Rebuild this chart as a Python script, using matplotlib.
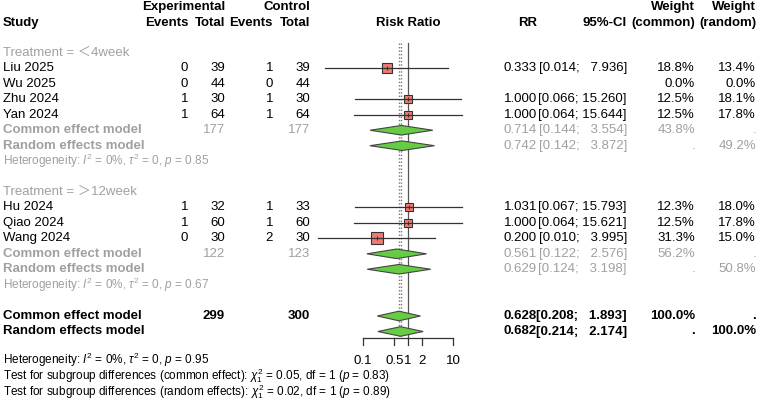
import numpy as np
import matplotlib
matplotlib.use("Agg")
import matplotlib.pyplot as plt

plt.rcParams['font.family'] = ['Liberation Sans', 'Noto Sans CJK SC', 'DejaVu Sans']
plt.rcParams['mathtext.fontset'] = 'custom'
plt.rcParams['mathtext.rm'] = 'Liberation Sans'
plt.rcParams['mathtext.it'] = 'Liberation Sans:italic'
plt.rcParams['mathtext.bf'] = 'Liberation Sans:bold'

# studies
studies = ["Liu 2025", "Wu 2025", "Zhu 2024", "Yan 2024", "Hu 2024", "Qiao 2024", "Wang 2024"]
group = [0, 0, 0, 0, 1, 1, 1]
e_events = [0, 0, 1, 1, 1, 1, 0]
e_total = [39, 44, 30, 64, 32, 60, 30]
c_events = [1, 0, 1, 1, 1, 1, 2]
c_total = [39, 44, 30, 64, 33, 60, 30]
rr = [0.333, np.nan, 1.000, 1.000, 1.031, 1.000, 0.200]
lo = [0.014, np.nan, 0.066, 0.064, 0.067, 0.064, 0.010]
hi = [7.936, np.nan, 15.260, 15.644, 15.793, 15.621, 3.995]
w_common = [18.8, 0.0, 12.5, 12.5, 12.3, 12.5, 31.3]
w_random = [13.4, 0.0, 18.1, 17.8, 18.0, 17.8, 15.0]

# subgroup summaries
sub_labels = ["Treatment = ＜4week", "Treatment = ＞12week"]
sub_e_total = [177, 122]
sub_c_total = [177, 123]
sub_common = [(0.714, 0.144, 3.554), (0.561, 0.122, 2.576)]
sub_random = [(0.742, 0.142, 3.872), (0.629, 0.124, 3.198)]
sub_w_common = [43.8, 56.2]
sub_w_random = [49.2, 50.8]
sub_het = ["0.85", "0.67"]

# overall
all_e_total, all_c_total = 299, 300
all_common = (0.628, 0.208, 1.893)
all_random = (0.682, 0.214, 2.174)

ticks = [0.1, 0.5, 1, 2, 10]
tick_labels = ["0.1", "0.5", "1", "2", "10"]

W, H = 760, 403
fig = plt.figure(figsize=(W / 100, H / 100), dpi=100)
tx = fig.add_axes([0, 0, 1, 1])
tx.set_xlim(0, W)
tx.set_ylim(H, 0)
tx.axis("off")

fx = fig.add_axes([318 / W, 0, 180 / W, 1])
fx.set_xscale("log")
fx.set_xlim(0.01, 100)
fx.set_ylim(H, 0)
fx.axis("off")

fs = 9.5
gray = "#a0a0a0"
sq_col = "#f07a72"
dia_col = "#66cc44"

# column right edges
col_ee, col_et, col_ce, col_ct = 188, 225, 273, 310
col_rr, col_ci, col_wc, col_wr = 537, 627, 695, 756


def fmt_ci(l, h):
    return "[%.3f; %s]" % (l, ("%.3f" % h).rjust(6).replace(" ", "  "))


def txt(x, y, s, ha="right", color="black", weight="normal", size=fs):
    tx.text(x, y, s, ha=ha, va="center", color=color, fontweight=weight, fontsize=size)


# headers
txt(3, 23, "Study", ha="left", weight="bold")
txt(225, 7, "Experimental", weight="bold")
txt(310, 7, "Control", weight="bold")
for x, s in [(col_ee, "Events"), (col_et, "Total"), (col_ce, "Events"), (col_ct, "Total")]:
    txt(x, 23, s, weight="bold")
txt(408, 23, "Risk Ratio", ha="center", weight="bold")
txt(col_rr, 23, "RR", weight="bold")
txt(col_ci, 23, "95%-CI", weight="bold")
txt(col_wc, 7, "Weight", weight="bold")
txt(col_wc, 23, "(common)", weight="bold")
txt(col_wr, 7, "Weight", weight="bold")
txt(col_wr, 23, "(random)", weight="bold")

step = 15.45
y0 = [53, 192]


def diamond(y, est, l, h):
    fx.fill([l, est, h, est], [y, y - 4.8, y, y + 4.8], facecolor=dia_col,
            edgecolor="#444444", linewidth=0.8, zorder=3, clip_on=False)


for g in range(2):
    y = y0[g]
    txt(3, y, sub_labels[g], ha="left", color=gray)
    idx = [i for i in range(len(studies)) if group[i] == g]
    for i in idx:
        y += step
        txt(3, y, studies[i], ha="left")
        txt(col_ee, y, str(e_events[i]))
        txt(col_et, y, str(e_total[i]))
        txt(col_ce, y, str(c_events[i]))
        txt(col_ct, y, str(c_total[i]))
        if not np.isnan(rr[i]):
            txt(col_rr, y, "%.3f" % rr[i])
            txt(col_ci, y, fmt_ci(lo[i], hi[i]))
            fx.plot([lo[i], hi[i]], [y, y], color="#333333", lw=0.9, zorder=5, clip_on=False)
            side = 8 * np.sqrt(w_common[i] / 12.5)
            fx.plot(rr[i], y, marker="s", ms=side * 0.72, mfc=sq_col, mec="#333333",
                    mew=0.8, zorder=4, clip_on=False)
            fx.plot(rr[i], y, marker="|", ms=3.5, color="#333333", mew=0.8, zorder=5)
        txt(col_wc, y, "%.1f%%" % w_common[i])
        txt(col_wr, y, "%.1f%%" % w_random[i])
    # common
    y += step
    txt(3, y, "Common effect model", ha="left", color=gray, weight="bold")
    txt(col_et, y, str(sub_e_total[g]), color=gray)
    txt(col_ct, y, str(sub_c_total[g]), color=gray)
    est, l, h = sub_common[g]
    txt(col_rr, y, "%.3f" % est, color=gray)
    txt(col_ci, y, fmt_ci(l, h), color=gray)
    txt(col_wc, y, "%.1f%%" % sub_w_common[g], color=gray)
    txt(col_wr, y, ".", color=gray)
    diamond(y, est, l, h)
    # random
    y += step
    txt(3, y, "Random effects model", ha="left", color=gray, weight="bold")
    est, l, h = sub_random[g]
    txt(col_rr, y, "%.3f" % est, color=gray)
    txt(col_ci, y, fmt_ci(l, h), color=gray)
    txt(col_wc, y, ".", color=gray)
    txt(col_wr, y, "%.1f%%" % sub_w_random[g], color=gray)
    diamond(y, est, l, h)
    y += step
    txt(3, y, r"Heterogeneity: $\mathit{I}^2$ = 0%, $\tau^2$ = 0, $\mathit{p}$ = " + sub_het[g],
        ha="left", color=gray, size=8.5)

# overall
y = 316
txt(3, y, "Common effect model", ha="left", weight="bold")
txt(col_et, y, str(all_e_total), weight="bold")
txt(col_ct, y, str(all_c_total), weight="bold")
txt(col_rr, y, "%.3f" % all_common[0], weight="bold")
txt(col_ci, y, fmt_ci(all_common[1], all_common[2]), weight="bold")
txt(col_wc, y, "100.0%", weight="bold")
txt(col_wr, y, ".", weight="bold")
diamond(y, *all_common)
y = 331.5
txt(3, y, "Random effects model", ha="left", weight="bold")
txt(col_rr, y, "%.3f" % all_random[0], weight="bold")
txt(col_ci, y, fmt_ci(all_random[1], all_random[2]), weight="bold")
txt(col_wc, y, ".", weight="bold")
txt(col_wr, y, "100.0%", weight="bold")
diamond(y, *all_random)

# reference lines
fx.plot([1, 1], [43, 338], color="#555555", lw=0.9, zorder=1)
fx.plot([all_common[0]] * 2, [43, 338], color="#777777", lw=1.0, ls=(0, (1, 1.5)), zorder=1)
fx.plot([all_random[0]] * 2, [43, 338], color="#777777", lw=1.0, ls=(0, (1, 1.5)), zorder=1)

# x axis
fx.plot([ticks[0], ticks[-1]], [338, 338], color="#333333", lw=0.9, clip_on=False)
for t, s in zip(ticks, tick_labels):
    fx.plot([t, t], [338, 345], color="#333333", lw=0.9, clip_on=False)
    fx.text(t, 361, s, ha="center", va="center", fontsize=fs)

# bottom notes
txt(3, 360, r"Heterogeneity: $\mathit{I}^2$ = 0%, $\tau^2$ = 0, $\mathit{p}$ = 0.95", ha="left", size=8.5)
txt(3, 376, r"Test for subgroup differences (common effect): $\chi^2_1$ = 0.05, df = 1 ($\mathit{p}$ = 0.83)",
    ha="left", size=8.5)
txt(3, 391.5, r"Test for subgroup differences (random effects): $\chi^2_1$ = 0.02, df = 1 ($\mathit{p}$ = 0.89)",
    ha="left", size=8.5)

fig.savefig("out.png", dpi=100)
